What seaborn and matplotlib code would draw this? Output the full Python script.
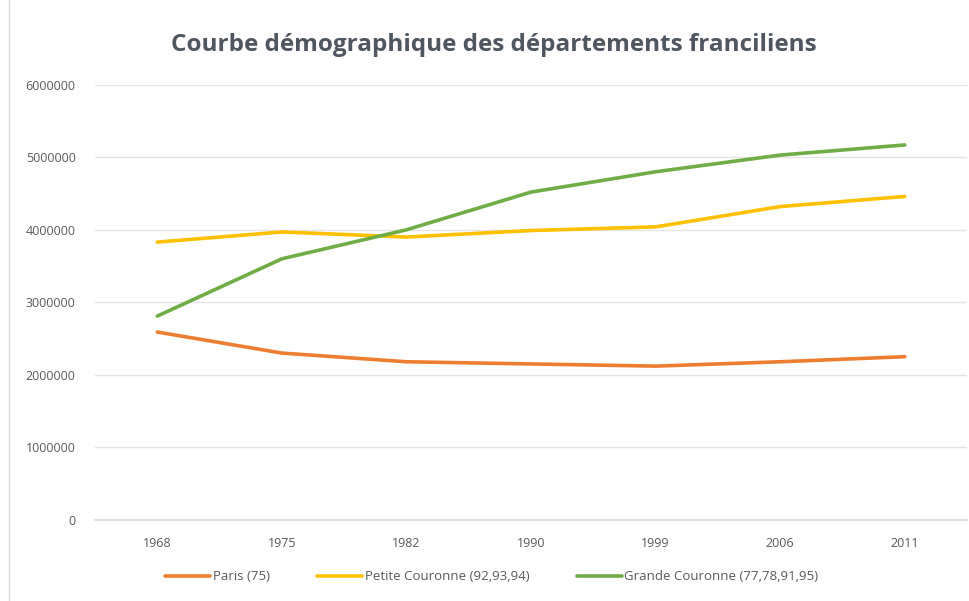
import matplotlib
matplotlib.use("Agg")
import matplotlib.pyplot as plt
import matplotlib.ticker as mticker
import seaborn as sns
import pandas as pd

years = ["1968", "1975", "1982", "1990", "1999", "2006", "2011"]
paris = [2590000, 2300000, 2180000, 2150000, 2120000, 2180000, 2250000]
petite = [3830000, 3970000, 3900000, 3990000, 4040000, 4320000, 4460000]
grande = [2810000, 3600000, 4000000, 4520000, 4800000, 5030000, 5170000]
series_names = ["Paris (75)", "Petite Couronne (92,93,94)", "Grande Couronne (77,78,91,95)"]
colors = ["#ED7D31", "#FFC000", "#70AD47"]

rows = []
for name, vals in zip(series_names, [paris, petite, grande]):
    for y, v in zip(years, vals):
        rows.append({"Année": y, "Population": v, "Série": name})
df = pd.DataFrame(rows)

sns.set_theme(style="white")
plt.rcParams["font.family"] = ["Open Sans", "DejaVu Sans"]

fig = plt.figure(figsize=(9.7, 6.01), dpi=100)
ax = fig.add_axes([0.098, 0.135, 0.899, 0.724])

sns.lineplot(data=df, x="Année", y="Population", hue="Série", palette=colors,
             hue_order=series_names, sort=False, linewidth=2.6, ax=ax, legend=True)

ax.set_xlim(-0.5, len(years) - 0.5)
ax.set_ylim(0, 6000000)
ax.yaxis.set_major_locator(mticker.MultipleLocator(1000000))
ax.yaxis.set_major_formatter(mticker.StrMethodFormatter("{x:.0f}"))
ax.grid(axis="y", color="#E4E4E4", linewidth=1)
ax.set_axisbelow(True)
for s in ["top", "right", "left"]:
    ax.spines[s].set_visible(False)
ax.spines["bottom"].set_color("#D9D9D9")
ax.tick_params(axis="both", length=0, labelsize=9, colors="#595959", pad=12)
ax.tick_params(axis="y", pad=14)
ax.set_xlabel("")
ax.set_ylabel("")

handles, labels = ax.get_legend_handles_labels()
ax.get_legend().remove()
fig.legend(handles, labels, loc="center", bbox_to_anchor=(0.507, 0.04), ncol=3,
           frameon=False, fontsize=9.5, labelcolor="#595959", handlelength=3.4,
           handletextpad=0.2, columnspacing=3.6)

fig.text(0.509, 0.925, "Courbe démographique des départements franciliens",
         ha="center", va="center", fontsize=17.5, fontweight="bold", color="#4F5660")

fig.add_artist(plt.Line2D([0.009, 0.009], [0, 1], color="#D9D9D9", linewidth=1,
                          transform=fig.transFigure))

fig.savefig("out.png", dpi=100)
